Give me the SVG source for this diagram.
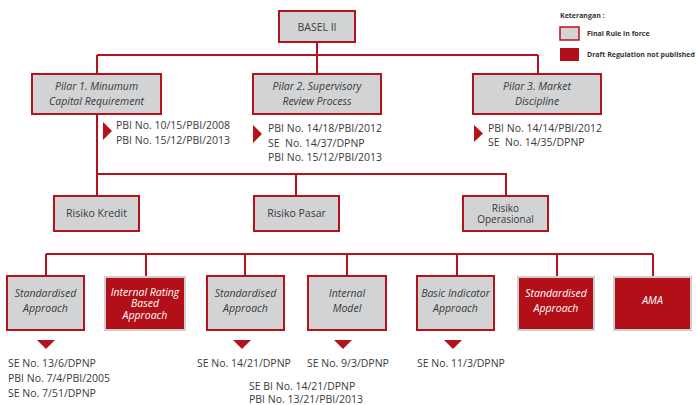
<svg xmlns="http://www.w3.org/2000/svg" width="696" height="405" viewBox="0 0 696 405">
  <style>
    .box { fill: #d1d3d4; stroke: #b5121b; stroke-width: 2; }
    .rbox { fill: #b20f19; stroke: #cfcfcf; stroke-width: 2; }
    .wire { stroke: #b5121b; stroke-width: 2; fill: none; }
    .tri { fill: #b5121b; }
    text { font-family: "Open Sans", "Noto Sans", sans-serif; font-size: 10.5px; fill: #3a3a3a; }
    .c { text-anchor: middle; }
    .it { font-style: italic; }
    .w { fill: #ffffff; }
    .tight { font-size: 10px; }
    .leg { font-size: 7px; font-weight: bold; fill: #333333; }
  </style>

  <!-- connectors -->
  <g id="connectors">
    <path class="wire" d="M317 42 V55 M97 55 H538 M97 55 V74 M317 55 V74 M538 55 V74"/>
    <path class="wire" d="M97 114 V174 H506 V196 M97 174 V196 M296 174 V196"/>
    <path class="wire" d="M46 254 H653 M46 254 V276 M146 254 V276 M245 254 V276 M347 254 V276 M457 254 V276 M557 254 V276 M653 254 V276"/>
  </g>

  <!-- legend -->
  <g id="legend">
    <text class="leg" x="560" y="18">Keterangan :</text>
    <rect x="560" y="27" width="19" height="13" fill="#d1d3d4" stroke="#b5121b" stroke-width="1.5"/>
    <text class="leg" x="587" y="36">Final Rule in force</text>
    <rect x="560" y="48" width="19" height="13" fill="#b20f19"/>
    <text class="leg" x="587" y="57">Draft Regulation not published</text>
  </g>

  <g id="basel2">
    <rect class="box" x="279" y="11" width="76" height="31"/>
    <text class="c" x="317" y="31">BASEL II</text>
  </g>

  <!-- pillars -->
  <g id="pilar1">
    <rect class="box" x="32" y="74" width="129" height="40"/>
    <text class="c it" x="96.5" y="90">Pilar 1. Minumum</text>
    <text class="c it" x="96.5" y="105">Capital Requirement</text>
  </g>
  <g id="pilar1-ref">
    <polygon class="tri" points="103,122 112,131 103,140"/>
    <text x="116" y="129">PBI No. 10/15/PBI/2008</text>
    <text x="116" y="144">PBI No. 15/12/PBI/2013</text>
  </g>

  <g id="pilar2">
    <rect class="box" x="253" y="74" width="128" height="40"/>
    <text class="c it" x="317" y="90">Pilar 2. Supervisory</text>
    <text class="c it" x="317" y="105">Review Process</text>
  </g>
  <g id="pilar2-ref">
    <polygon class="tri" points="253,125 262,134 253,143"/>
    <text x="268" y="132">PBI No. 14/18/PBI/2012</text>
    <text x="268" y="147" xml:space="preserve">SE  No. 14/37/DPNP</text>
    <text x="268" y="161">PBI No. 15/12/PBI/2013</text>
  </g>

  <g id="pilar3">
    <rect class="box" x="473" y="74" width="128" height="40"/>
    <text class="c it" x="537" y="90">Pilar 3. Market</text>
    <text class="c it" x="537" y="105">Discipline</text>
  </g>
  <g id="pilar3-ref">
    <polygon class="tri" points="474,125 483,133.5 474,142"/>
    <text x="488" y="132">PBI No. 14/14/PBI/2012</text>
    <text x="488" y="146" xml:space="preserve">SE  No. 14/35/DPNP</text>
  </g>

  <!-- risk types -->
  <g id="risiko-kredit">
    <rect class="box" x="54" y="196" width="85" height="35"/>
    <text class="c" x="96.5" y="217">Risiko Kredit</text>
  </g>
  <g id="risiko-pasar">
    <rect class="box" x="254" y="196" width="85" height="35"/>
    <text class="c" x="296.5" y="217">Risiko Pasar</text>
  </g>
  <g id="risiko-operasional">
    <rect class="box" x="463" y="196" width="85" height="35"/>
    <text class="c tight" x="505.5" y="211.5">Risiko</text>
    <text class="c tight" x="505.5" y="223">Operasional</text>
  </g>

  <!-- approaches -->
  <g id="kredit-standardised">
    <rect class="box" x="7" y="276" width="77" height="54"/>
    <text class="c it" x="45.5" y="297">Standardised</text>
    <text class="c it" x="45.5" y="312">Approach</text>
    <polygon class="tri" points="37,340 55,340 46,349"/>
    <text x="8" y="367">SE No. 13/6/DPNP</text>
    <text x="8" y="382">PBI No. 7/4/PBI/2005</text>
    <text x="8" y="397">SE No. 7/51/DPNP</text>
  </g>
  <g id="kredit-irb">
    <rect class="rbox" x="105" y="277" width="80" height="53"/>
    <text class="c it w" x="145" y="295.5">Internal Rating</text>
    <text class="c it w" x="145" y="307">Based</text>
    <text class="c it w" x="145" y="318.5">Approach</text>
  </g>
  <g id="pasar-standardised">
    <rect class="box" x="207" y="276" width="77" height="54"/>
    <text class="c it" x="245.5" y="297">Standardised</text>
    <text class="c it" x="245.5" y="312">Approach</text>
    <polygon class="tri" points="233,340 251,340 242,349"/>
    <text x="197" y="367">SE No. 14/21/DPNP</text>
    <text x="249" y="389.5">SE BI No. 14/21/DPNP</text>
    <text x="249" y="403">PBI No. 13/21/PBI/2013</text>
  </g>
  <g id="pasar-internal-model">
    <rect class="box" x="308" y="276" width="78" height="54"/>
    <text class="c it" x="347" y="297">Internal</text>
    <text class="c it" x="347" y="312">Model</text>
    <polygon class="tri" points="334,340 352,340 343,349"/>
    <text x="307" y="367">SE No. 9/3/DPNP</text>
  </g>
  <g id="operasional-bia">
    <rect class="box" x="417" y="276" width="77" height="54"/>
    <text class="c it" x="455.5" y="297">Basic Indicator</text>
    <text class="c it" x="455.5" y="312">Approach</text>
    <polygon class="tri" points="444,340 462,340 453,349"/>
    <text x="417" y="367">SE No. 11/3/DPNP</text>
  </g>
  <g id="operasional-standardised">
    <rect class="rbox" x="518" y="277" width="76" height="53"/>
    <text class="c it w" x="556" y="297">Standardised</text>
    <text class="c it w" x="556" y="312">Approach</text>
  </g>
  <g id="operasional-ama">
    <rect class="rbox" x="614" y="277" width="77" height="53"/>
    <text class="c it w" x="652.5" y="304">AMA</text>
  </g>
</svg>
